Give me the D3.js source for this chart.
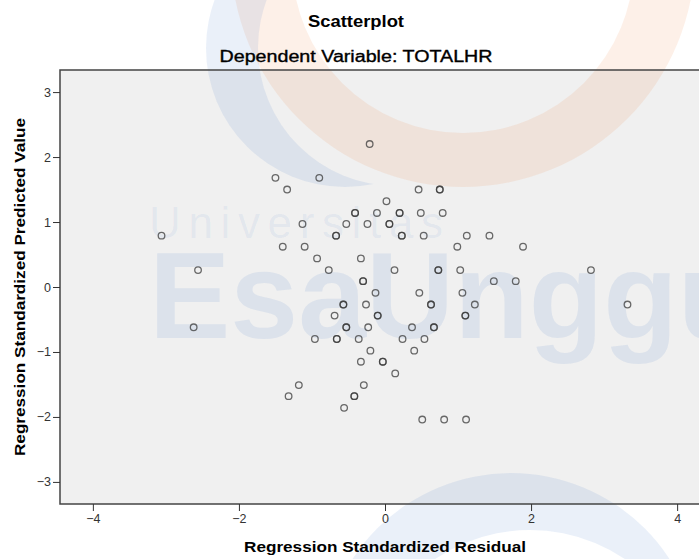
<!DOCTYPE html>
<html>
<head>
<meta charset="utf-8">
<script src="https://cdn.jsdelivr.net/npm/d3@7"></script>
<style>
  body { margin: 0; background: #fff; }
  text { font-family: "Liberation Sans", Arial, sans-serif; }
</style>
</head>
<body>
<script>
// regression residual vs predicted (overlapping cases listed twice)
var predicted = [
  2.20,
  1.68, 1.68,
  1.50, 1.50, 1.50, 1.50,
  1.32,
  1.14, 1.14, 1.14, 1.14, 1.14, 1.14, 1.14,
  0.97, 0.97, 0.97, 0.97, 0.97,
  0.79, 0.79, 0.79, 0.79, 0.79, 0.79, 0.79, 0.79,
  0.62, 0.62, 0.62, 0.62,
  0.44, 0.44,
  0.26, 0.26, 0.26, 0.26, 0.26, 0.26, 0.26,
  0.09, 0.09, 0.09, 0.09,
  -0.09, -0.09, -0.09,
  -0.27, -0.27, -0.27, -0.27, -0.27, -0.27, -0.27,
  -0.44, -0.44, -0.44, -0.44, -0.44,
  -0.62, -0.62, -0.62, -0.62, -0.62, -0.62, -0.62,
  -0.80, -0.80, -0.80, -0.80, -0.80, -0.80,
  -0.98, -0.98,
  -1.15, -1.15, -1.15,
  -1.33,
  -1.51, -1.51,
  -1.68, -1.68, -1.68,
  -1.86,
  -2.04, -2.04, -2.04
]
var residual = [
  -0.21,
  -1.50, -0.90,
  -1.34, 0.46, 0.75, 0.75,
  0.02,
  -0.41, -0.41, -0.11, 0.20, 0.20, 0.49, 0.79,
  -1.13, -0.53, -0.24, 0.06, 0.06,
  -3.06, -0.67, -0.67, 0.23, 0.23, 0.53, 1.12, 1.43,
  -1.40, -1.10, 0.99, 1.89,
  -0.93, -0.33,
  -2.56, -0.77, 0.13, 0.73, 0.73, 1.03, 2.82,
  -0.30, -0.30, 1.49, 1.79,
  -0.13, 0.47, 1.06,
  -0.57, -0.57, -0.26, 0.63, 0.63, 1.23, 3.32,
  -0.69, -0.10, -0.10, 1.10, 1.10,
  -2.62, -0.53, -0.53, -0.23, 0.37, 0.67, 0.67,
  -0.96, -0.66, -0.66, -0.36, 0.24, 0.54,
  -0.20, 0.40,
  -0.33, -0.03, -0.03,
  0.14,
  -1.18, -0.29,
  -1.32, -0.42, -0.42,
  -0.56,
  0.51, 0.81, 1.11
]
var xTicks = [-4, -2, 0, 2, 4]
var yTicks = [-3, -2, -1, 0, 1, 2, 3]

var width = 699, height = 559
var plot = {left: 60, top: 70, right: 710, bottom: 504}

var x = d3.scaleLinear().domain([-4.45, 4.45]).range([plot.left, plot.right])
var y = d3.scaleLinear().domain([-3.34, 3.34]).range([plot.bottom, plot.top])

var svg = d3.select("body").append("svg")
    .attr("width", width)
    .attr("height", height)

svg.append("rect")
    .attr("x", plot.left).attr("y", plot.top)
    .attr("width", plot.right - plot.left)
    .attr("height", plot.bottom - plot.top)
    .attr("fill", "#f0f0f0")

// faint university watermark lying over the whole picture
var defs = svg.append("defs")
var wm = svg.append("g").attr("class", "watermark")
function crescent(id, outer, inner, color, opacity) {
    var m = defs.append("mask").attr("id", id)
    m.append("rect").attr("width", width).attr("height", height).attr("fill", "#fff")
    m.append("circle").attr("cx", inner[0]).attr("cy", inner[1]).attr("r", inner[2]).attr("fill", "#000")
    wm.append("circle")
        .attr("cx", outer[0]).attr("cy", outer[1]).attr("r", outer[2])
        .attr("fill", color).attr("fill-opacity", opacity)
        .attr("mask", `url(#${id})`)
}
crescent("m-orange", [463, -45, 232], [463, -38, 171], "#e9742f", 0.11)
crescent("m-blue-top", [345, 48, 139], [396, 48, 138], "#2f6cc4", 0.1)
crescent("m-blue-bottom", [511, 662, 189], [530, 700, 170], "#2f6cc4", 0.1)
wm.append("text")
    .attr("x", 149).attr("y", 238)
    .attr("font-size", 44).attr("font-weight", 300)
    .attr("textLength", 294).attr("lengthAdjust", "spacing")
    .attr("fill", "#2f6cc4").attr("fill-opacity", 0.07)
    .text("Universitas")
wm.append("text")
    .attr("x", 149).attr("y", 338)
    .attr("font-size", 122).attr("font-weight", "bold")
    .attr("fill", "#2f6cc4").attr("fill-opacity", 0.1)
    .text("EsaUnggul")

// frame (right side runs past the window edge)
svg.append("rect")
    .attr("x", plot.left).attr("y", plot.top)
    .attr("width", plot.right - plot.left)
    .attr("height", plot.bottom - plot.top)
    .attr("fill", "none")
    .attr("stroke", "#444")
    .attr("stroke-width", 1.5)

var xAxis = svg.append("g")
    .attr("transform", `translate(0,${plot.bottom})`)
    .call(d3.axisBottom(x).tickValues(xTicks).tickFormat(d3.format("d"))
        .tickSize(7).tickSizeOuter(0).tickPadding(3))
var yAxis = svg.append("g")
    .attr("transform", `translate(${plot.left},0)`)
    .call(d3.axisLeft(y).tickValues(yTicks).tickFormat(d3.format("d"))
        .tickSize(7).tickSizeOuter(0).tickPadding(2))
;[xAxis, yAxis].forEach(a => {
    a.select(".domain").remove()
    a.selectAll(".tick line").attr("stroke", "#333")
    a.selectAll(".tick text")
        .attr("fill", "#333")
        .style("font-size", "12.5px")
        .style("font-family", '"Liberation Sans", Arial, sans-serif')
})

svg.append("g")
    .selectAll("circle")
    .data(residual)
    .enter().append("circle")
    .attr("cx", d => x(d))
    .attr("cy", (d, i) => y(predicted[i]))
    .attr("r", 3.3)
    .attr("fill", "none")
    .attr("stroke", "#3a3a3a")
    .attr("stroke-opacity", 0.75)
    .attr("stroke-width", 1.3)

svg.append("text")
    .attr("x", 356).attr("y", 27)
    .attr("text-anchor", "middle")
    .attr("font-size", 16.5).attr("font-weight", "bold")
    .attr("textLength", 96).attr("lengthAdjust", "spacingAndGlyphs")
    .text("Scatterplot")
svg.append("text")
    .attr("x", 356).attr("y", 62)
    .attr("text-anchor", "middle")
    .attr("font-size", 16)
    .attr("stroke", "#000").attr("stroke-width", 0.35)
    .attr("textLength", 273).attr("lengthAdjust", "spacingAndGlyphs")
    .text("Dependent Variable: TOTALHR")
svg.append("text")
    .attr("x", 385).attr("y", 552)
    .attr("text-anchor", "middle")
    .attr("font-size", 15.5).attr("font-weight", "bold")
    .attr("textLength", 282).attr("lengthAdjust", "spacingAndGlyphs")
    .text("Regression Standardized Residual")
svg.append("text")
    .attr("transform", `translate(25,${(plot.top + plot.bottom) / 2}) rotate(-90)`)
    .attr("text-anchor", "middle")
    .attr("font-size", 15.5).attr("font-weight", "bold")
    .attr("textLength", 338).attr("lengthAdjust", "spacingAndGlyphs")
    .text("Regression Standardized Predicted Value")
</script>
</body>
</html>
